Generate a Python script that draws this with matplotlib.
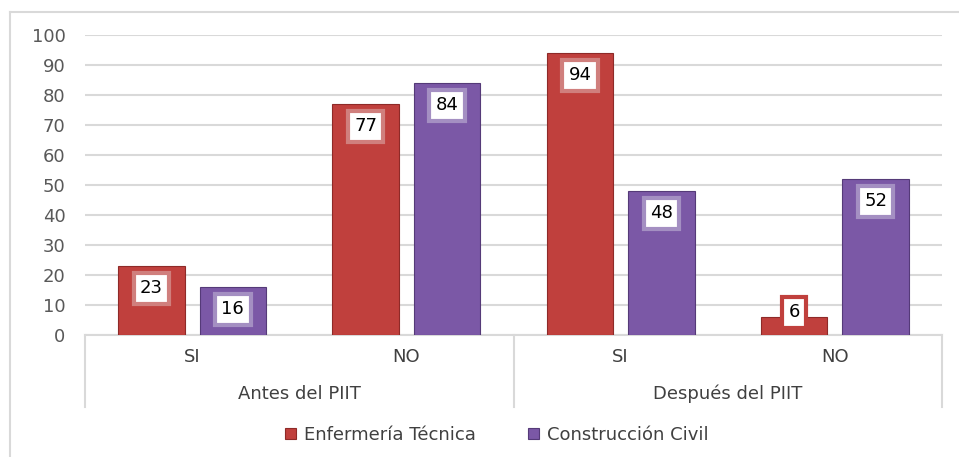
import matplotlib
matplotlib.use("Agg")
import matplotlib.pyplot as plt
from matplotlib.lines import Line2D
import numpy as np

PERIODS = ["Antes del PIIT", "Después del PIIT"]
ANSWERS = ["SI", "NO", "SI", "NO"]
ENFERMERIA = [23, 77, 94, 6]
CONSTRUCCION = [16, 84, 48, 52]

RED = "#C0403D"
RED_EDGE = "#8E2A28"
RED_BOX = "#D07F7D"
PURPLE = "#7B58A6"
PURPLE_EDGE = "#553A78"
PURPLE_BOX = "#A48FC2"
GRID = "#D9D9D9"
TXT = "#404040"

plt.rcParams["font.family"] = ["DejaVu Sans"]

fig = plt.figure(figsize=(9.59, 4.57), dpi=100)
ax = fig.add_axes([85 / 959, 1 - 335 / 457, (942 - 85) / 959, 300 / 457])

x = np.arange(len(ANSWERS))
w = 0.31
off = 0.19
b1 = ax.bar(x - off, ENFERMERIA, w, color=RED, edgecolor=RED_EDGE, lw=0.8, zorder=3,
            label="Enfermería Técnica")
b2 = ax.bar(x + off, CONSTRUCCION, w, color=PURPLE, edgecolor=PURPLE_EDGE, lw=0.8, zorder=3,
            label="Construcción Civil")

# data labels, inside end (pushed up when the bar is too short)
for bars, vals, ec in [(b1, ENFERMERIA, RED_BOX), (b2, CONSTRUCCION, PURPLE_BOX)]:
    for r, v in zip(bars, vals):
        y = max(v - 7.4, 7.6)
        ec_ = RED if v < 10 else ec
        ax.text(r.get_x() + r.get_width() / 2, y, str(v), ha="center", va="center",
                fontsize=13, color="black", zorder=5,
                bbox=dict(boxstyle="square,pad=0.35", fc="white", ec=ec_, lw=3))

ax.set_ylim(0, 100)
ax.set_xlim(-0.5, 3.5)
ax.set_yticks(range(0, 101, 10))
ax.tick_params(axis="y", length=0, pad=14, labelsize=13, labelcolor="#595959")
ax.set_xticks([])
ax.grid(axis="y", color=GRID, lw=1.5, zorder=0)
for s in ax.spines.values():
    s.set_visible(False)

# multi-level category axis
tr = ax.get_xaxis_transform()
ax.plot([-0.5, 3.5], [0, 0], color=GRID, lw=1.5, transform=tr, clip_on=False)
for xv in [-0.5, 1.5, 3.5]:
    ax.plot([xv, xv], [0, -0.24], color=GRID, lw=1.5, transform=tr, clip_on=False)
for i, lab in enumerate(ANSWERS):
    ax.text(i, -0.073, lab, ha="center", va="center", fontsize=13, color=TXT, transform=tr)
for j, lab in enumerate(PERIODS):
    ax.text(0.5 + 2 * j, -0.197, lab, ha="center", va="center", fontsize=13, color=TXT,
            transform=tr)

leg = ax.legend(loc="center", bbox_to_anchor=(0.518, 0.048), bbox_transform=fig.transFigure,
                ncol=2, frameon=False, fontsize=13, handlelength=0.6, handleheight=0.6,
                handletextpad=0.45, columnspacing=2.9)
for t in leg.get_texts():
    t.set_color(TXT)

# chart frame (top and left edges visible)
fig.add_artist(Line2D([10 / 959, 1], [1 - 12 / 457] * 2, color=GRID, lw=1.5))
fig.add_artist(Line2D([10 / 959] * 2, [0, 1 - 12 / 457], color=GRID, lw=1.5))

fig.savefig("out.png", dpi=100)
